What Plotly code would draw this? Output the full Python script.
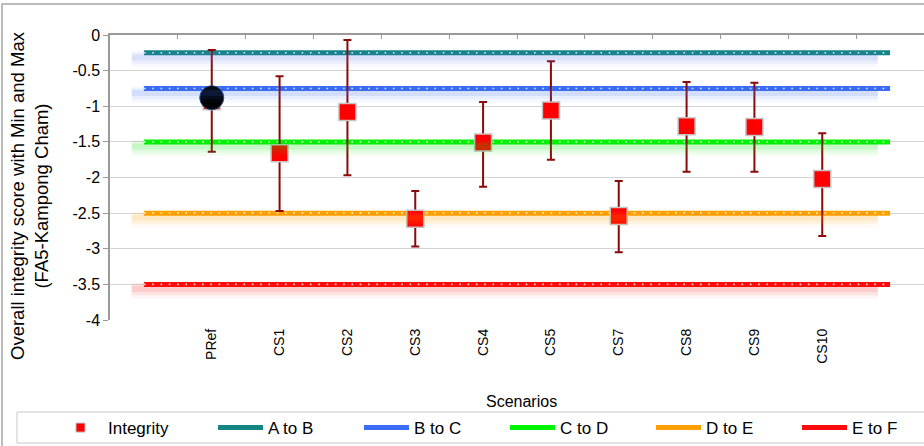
import plotly.graph_objects as go
import numpy as np

# ---------------- data ----------------
scenarios = ["PRef", "CS1", "CS2", "CS3", "CS4", "CS5", "CS7", "CS8", "CS9", "CS10"]
integrity = [-0.93, -1.66, -1.08, -2.58, -1.51, -1.06, -2.54, -1.28, -1.29, -2.02]
integrity_max = [-0.21, -0.58, -0.07, -2.19, -0.94, -0.37, -2.05, -0.66, -0.67, -1.38]
integrity_min = [-1.64, -2.47, -1.97, -2.97, -2.13, -1.75, -3.05, -1.92, -1.92, -2.82]
pref_point = [-0.88]

threshold_names = ["A to B", "B to C", "C to D", "D to E", "E to F"]
threshold_values = [-0.25, -0.75, -1.5, -2.5, -3.5]
threshold_colors = ["#128585", "#3a6cf5", "#00f500", "#ffa000", "#ff0a0a"]
glow_colors = ["#5a78e8", "#3a6cf5", "#00e000", "#ffa000", "#ff2020"]

y_ticks = [0, -0.5, -1, -1.5, -2, -2.5, -3, -3.5, -4]
y_ticktext = ["0", "-0.5", "-1", "-1.5", "-2", "-2.5", "-3", "-3.5", "-4"]

# category slots: empty slot, scenarios, empty slot
all_slots = [""] + scenarios + [""]
slot_x = np.arange(len(all_slots))
scen_x = slot_x[1:-1]
boundaries = slot_x[:-1] + 0.5

FONT = "Liberation Sans, Arial, sans-serif"


def rgba(hexc, a):
    h = hexc.lstrip("#")
    r, g, b = int(h[0:2], 16), int(h[2:4], 16), int(h[4:6], 16)
    return f"rgba({r},{g},{b},{a})"


fig = go.Figure()

# glow under threshold lines (drawn on overlay axis x2)
for name, val, gc in zip(threshold_names, threshold_values, glow_colors):
    gx = slot_x - 0.18
    for w, a, dy in [(16, 0.05, 0.085), (11, 0.07, 0.075), (6, 0.12, 0.065)]:
        fig.add_trace(go.Scatter(x=gx, y=[val - dy] * len(slot_x), mode="lines", xaxis="x2",
                                 line=dict(color=rgba(gc, a), width=w),
                                 showlegend=False, hoverinfo="skip"))

# legend entry for Integrity (first in legend)
fig.add_trace(go.Scatter(x=[None], y=[None], mode="markers", name="Integrity",
                         legendwidth=100,
                         marker=dict(symbol="square", size=9, color="#ff0000",
                                     line=dict(color="#bfbfbf", width=1))))

# threshold lines
for i, (name, val, col) in enumerate(zip(threshold_names, threshold_values, threshold_colors)):
    ty = [val] * len(slot_x)
    kw = {}
    if i == len(threshold_names) - 1:
        kw["legendwidth"] = 50
    fig.add_trace(go.Scatter(x=slot_x, y=ty, mode="lines", name=name,
                             line=dict(color=col, width=5), **kw))
    fig.add_trace(go.Scatter(x=slot_x, y=ty, mode="lines", showlegend=False,
                             hoverinfo="skip",
                             line=dict(color="rgba(255,255,255,0.9)", width=1.6,
                                       dash="1.6px,6.7px")))

# integrity with min/max error bars
err_plus = [mx - v for mx, v in zip(integrity_max, integrity)]
err_minus = [v - mn for mn, v in zip(integrity_min, integrity)]
fig.add_trace(go.Scatter(
    x=scen_x, y=integrity, mode="markers", name="Integrity", showlegend=False,
    marker=dict(symbol="square", size=17, color="#ff0000",
                line=dict(color="#c4c4c4", width=1.5)),
    error_y=dict(type="data", symmetric=False, array=err_plus, arrayminus=err_minus,
                 color="#8b0a0a", thickness=2, width=4)))

# PRef black circle
fig.add_trace(go.Scatter(x=scen_x[:1], y=pref_point, mode="markers", showlegend=False,
                         marker=dict(symbol="circle", size=24, color="#000000",
                                     line=dict(color="#2a4a7a", width=1))))

W, H = 924, 446
ml, mr, mt, mb = 110, 0, 35, 446 - 320
pw, ph = W - ml - mr, H - mt - mb


def px(xp):  # page x -> paper
    return (xp - 110) / pw


def py(yp):  # page y -> paper
    return (320 - yp) / ph


fig.update_layout(
    width=W, height=H,
    margin=dict(l=ml, r=mr, t=mt, b=mb, pad=0),
    paper_bgcolor="white", plot_bgcolor="white",
    font=dict(family=FONT, color="#000000"),
    xaxis=dict(range=[-0.5, len(all_slots) - 0.5], tickmode="array",
               tickvals=scen_x, ticktext=scenarios, tickangle=-90,
               showgrid=False, zeroline=False, showline=False, ticks="",
               ticklabelstandoff=5,
               tickfont=dict(size=14, family=FONT, color="#000000")),
    xaxis2=dict(range=[-0.5, len(all_slots) - 0.5], overlaying="x", side="top",
                tickmode="array", tickvals=boundaries, showticklabels=False,
                ticks="inside", ticklen=4, tickcolor="#9a9a9a", tickwidth=1,
                showline=True, linecolor="#9a9a9a", linewidth=1.5,
                showgrid=False, zeroline=False),
    yaxis=dict(range=[-4, 0], tickmode="array", tickvals=y_ticks, ticktext=y_ticktext,
               showgrid=True, gridcolor="#d4d4d4", gridwidth=1, zeroline=False,
               showline=True, linecolor="#9a9a9a", linewidth=1.5,
               ticks="outside", ticklen=5, tickcolor="#9a9a9a",
               tickfont=dict(size=16, family=FONT, color="#000000")),
    legend=dict(orientation="h", x=px(53), xanchor="left", y=py(428), yanchor="middle",
                font=dict(size=17, family=FONT, color="#000000"),
                bgcolor="rgba(0,0,0,0)", borderwidth=0,
                entrywidth=86, entrywidthmode="pixels", itemwidth=45,
                tracegroupgap=0),
    showlegend=True,
    shapes=[
        dict(type="rect", xref="paper", yref="paper", x0=px(2), x1=px(940),
             y0=py(460), y1=py(4), line=dict(color="#a6a6a6", width=1.5),
             fillcolor="rgba(0,0,0,0)", layer="below"),
        dict(type="rect", xref="paper", yref="paper", x0=px(17), x1=px(940),
             y0=py(443), y1=py(412), line=dict(color="#c8c8c8", width=1),
             fillcolor="rgba(0,0,0,0)", layer="below"),
    ],
    annotations=[
        dict(text="Scenarios", xref="paper", yref="paper", x=px(521), y=py(401),
             xanchor="center", yanchor="middle", showarrow=False,
             font=dict(size=16, family=FONT, color="#000000")),
        dict(text="Overall integrity score with Min and Max<br>(FA5-Kampong Cham)",
             xref="paper", yref="paper", x=px(29), y=py(196), textangle=-90,
             xanchor="center", yanchor="middle", showarrow=False,
             font=dict(size=18.5, family=FONT, color="#000000")),
    ],
)

fig.write_html("out.html", config={"displayModeBar": False},
               post_script="document.body.style.margin='0';document.body.style.overflow='hidden';")
